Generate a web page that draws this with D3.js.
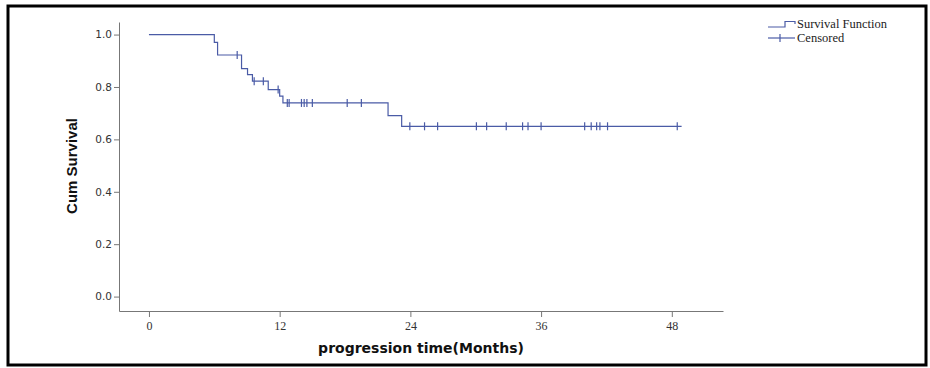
<!DOCTYPE html>
<html>
<head>
<meta charset="utf-8">
<script src="https://cdn.jsdelivr.net/npm/d3@7"></script>
<style>
  body { margin: 0; background: #fff; }
  svg { display: block; }
</style>
</head>
<body>
<svg width="930" height="368"></svg>
<script>
var svg = d3.select("svg"),
    width = +svg.attr("width"),
    height = +svg.attr("height");

// step changes of the Kaplan-Meier curve (months, cumulative survival)
var stepTimes = [0, 6.0, 6.3, 8.5, 9.05, 9.5, 10.95, 12.0, 12.3, 21.95, 23.2];
var stepSurv  = [1.0, 0.97, 0.922, 0.870, 0.847, 0.822, 0.79, 0.765, 0.739, 0.691, 0.65];
var lastTime = 48.9;

// censored observations (months)
var censorTimes = [8.1, 9.66, 10.5, 11.86, 12.7, 12.87, 14.0, 14.25, 14.5, 15.0,
                   18.2, 19.5, 23.95, 25.3, 26.5, 30.06, 31.0, 32.8, 34.3, 34.8,
                   36.0, 40.0, 40.6, 41.1, 41.4, 42.1, 48.5];

var xTicks = [0, 12, 24, 36, 48];
var yTicks = [0.0, 0.2, 0.4, 0.6, 0.8, 1.0];

var lineColor = "#4a5ba6";
var axisColor = "#777";

// outer frame
svg.append("rect")
    .attr("x", 8).attr("y", 6)
    .attr("width", 918).attr("height", 359)
    .attr("fill", "none")
    .attr("stroke", "#000")
    .attr("stroke-width", 3);

var x = d3.scaleLinear().domain([-2.75, 52.7]).range([119, 723]);
var y = d3.scaleLinear().domain([-0.055, 1.048]).range([311, 22]);

// axes
var gx = svg.append("g")
    .attr("transform", "translate(0," + y.range()[0] + ")")
    .call(d3.axisBottom(x).tickValues(xTicks).tickSize(6).tickSizeOuter(0).tickPadding(4));
gx.selectAll("text")
    .attr("font-family", "'Liberation Serif', serif")
    .attr("font-size", 12)
    .attr("fill", "#333");

var gy = svg.append("g")
    .attr("transform", "translate(" + x.range()[0] + ",0)")
    .call(d3.axisLeft(y).tickValues(yTicks).tickFormat(d3.format(".1f")).tickSize(5).tickSizeOuter(0).tickPadding(2));
gy.selectAll("text")
    .attr("font-family", "'DejaVu Sans', sans-serif")
    .attr("font-size", 10.5)
    .attr("fill", "#333");

svg.selectAll(".domain, .tick line").attr("stroke", axisColor);

// axis titles
svg.append("text")
    .attr("x", (x.range()[0] + x.range()[1]) / 2)
    .attr("y", 353)
    .attr("text-anchor", "middle")
    .attr("font-family", "'DejaVu Sans', sans-serif")
    .attr("font-weight", "bold")
    .attr("font-size", 14)
    .attr("fill", "#111")
    .text("progression time(Months)");

svg.append("text")
    .attr("transform", "translate(77,166) rotate(-90)")
    .attr("text-anchor", "middle")
    .attr("font-family", "'Liberation Sans', Arial, sans-serif")
    .attr("font-weight", "bold")
    .attr("font-size", 15)
    .attr("fill", "#111")
    .text("Cum Survival");

// survival step line
var pts = stepTimes.map(function(t, i) { return [t, stepSurv[i]]; });
pts.push([lastTime, stepSurv[stepSurv.length - 1]]);

var line = d3.line()
    .x(function(d) { return x(d[0]); })
    .y(function(d) { return y(d[1]); })
    .curve(d3.curveStepAfter);

svg.append("path")
    .datum(pts)
    .attr("d", line)
    .attr("fill", "none")
    .attr("stroke", lineColor)
    .attr("stroke-width", 1.2);

// survival at a given time
function survAt(t) {
    var s = stepSurv[0];
    for (var i = 0; i < stepTimes.length; i++) {
        if (stepTimes[i] <= t) s = stepSurv[i];
    }
    return s;
}

svg.append("g")
    .selectAll("line")
    .data(censorTimes)
    .enter().append("line")
    .attr("x1", function(d) { return x(d); })
    .attr("x2", function(d) { return x(d); })
    .attr("y1", function(d) { return y(survAt(d)) - 4; })
    .attr("y2", function(d) { return y(survAt(d)) + 4; })
    .attr("stroke", lineColor)
    .attr("stroke-width", 1.2);

// legend
var lg = svg.append("g");
lg.append("path")
    .attr("d", "M768,27H785V21.5H795V24")
    .attr("fill", "none")
    .attr("stroke", lineColor)
    .attr("stroke-width", 1.2);
lg.append("line")
    .attr("x1", 768).attr("x2", 795)
    .attr("y1", 38).attr("y2", 38)
    .attr("stroke", lineColor)
    .attr("stroke-width", 1.2);
lg.append("line")
    .attr("x1", 780).attr("x2", 780)
    .attr("y1", 34).attr("y2", 42)
    .attr("stroke", lineColor)
    .attr("stroke-width", 1.2);

lg.selectAll("text")
    .data(["Survival Function", "Censored"])
    .enter().append("text")
    .attr("x", 797)
    .attr("y", function(d, i) { return 27.5 + i * 14; })
    .attr("font-family", "'Liberation Serif', serif")
    .attr("font-size", 12.5)
    .attr("fill", "#222")
    .text(function(d) { return d; });
</script>
</body>
</html>
